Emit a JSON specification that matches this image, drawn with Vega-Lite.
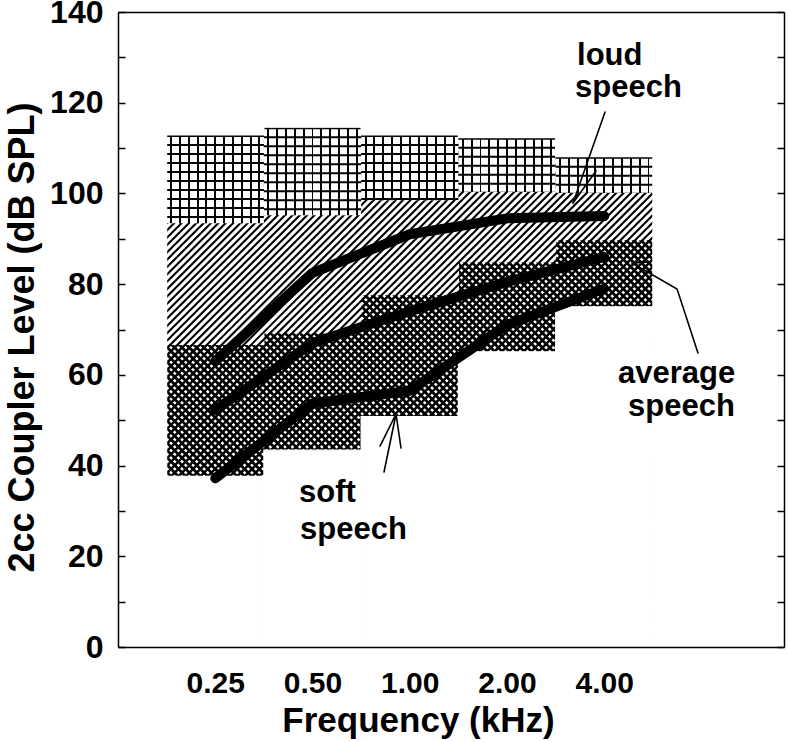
{
  "$schema": "https://vega.github.io/schema/vega-lite/v6.json",
  "width": 666,
  "height": 635,
  "autosize": {"type": "none"},
  "padding": {"left": 118, "top": 12, "right": 4, "bottom": 95},
  "background": "white",
  "config": {"view": {"stroke": null}},
  "datasets": {
    "bands": [
      {"freq": 0.25, "band_lo": 0.17678, "band_hi": 0.35355, "loud_top": 112.9, "loud_bottom": 93.4, "soft_top": 66.7, "soft_bottom": 37.6},
      {"freq": 0.5, "band_lo": 0.35355, "band_hi": 0.70711, "loud_top": 114.6, "loud_bottom": 95.2, "soft_top": 69.3, "soft_bottom": 43.4},
      {"freq": 1, "band_lo": 0.70711, "band_hi": 1.41421, "loud_top": 112.9, "loud_bottom": 98.5, "soft_top": 77.7, "soft_bottom": 50.8},
      {"freq": 2, "band_lo": 1.41421, "band_hi": 2.82843, "loud_top": 112.3, "loud_bottom": 100.3, "soft_top": 84.9, "soft_bottom": 65.1},
      {"freq": 4, "band_lo": 2.82843, "band_hi": 5.65685, "loud_top": 108.1, "loud_bottom": 100.1, "soft_top": 89.8, "soft_bottom": 75.0}
    ],
    "speech": [
      {"series": "loud", "freq": 0.25, "level": 63},
      {"series": "loud", "freq": 0.5, "level": 82.5},
      {"series": "loud", "freq": 1, "level": 91},
      {"series": "loud", "freq": 2, "level": 94.5},
      {"series": "loud", "freq": 4, "level": 95},
      {"series": "average", "freq": 0.25, "level": 52.3},
      {"series": "average", "freq": 0.5, "level": 67},
      {"series": "average", "freq": 1, "level": 74},
      {"series": "average", "freq": 2, "level": 80.5},
      {"series": "average", "freq": 4, "level": 86},
      {"series": "soft", "freq": 0.25, "level": 37.2},
      {"series": "soft", "freq": 0.5, "level": 53.7},
      {"series": "soft", "freq": 1, "level": 56.5},
      {"series": "soft", "freq": 2, "level": 71},
      {"series": "soft", "freq": 4, "level": 79}
    ],
    "pointers": [
      {"id": "loud-shaft", "seq": 1, "freq": 4.022, "level": 117.95},
      {"id": "loud-shaft", "seq": 2, "freq": 3.201, "level": 97.89},
      {"id": "loud-barb", "seq": 1, "freq": 3.201, "level": 97.89},
      {"id": "loud-barb", "seq": 2, "freq": 3.771, "level": 104.94},
      {"id": "average-shaft", "seq": 1, "freq": 7.8, "level": 64.82},
      {"id": "average-shaft", "seq": 2, "freq": 6.72, "level": 78.93},
      {"id": "average-shaft", "seq": 3, "freq": 4.875, "level": 84.66},
      {"id": "average-barb", "seq": 1, "freq": 4.875, "level": 84.66},
      {"id": "average-barb", "seq": 2, "freq": 5.55, "level": 84.9},
      {"id": "soft-shaft", "seq": 1, "freq": 0.8324, "level": 38.58},
      {"id": "soft-shaft", "seq": 2, "freq": 0.9067, "level": 51.37},
      {"id": "soft-barb1", "seq": 1, "freq": 0.809, "level": 44.31},
      {"id": "soft-barb1", "seq": 2, "freq": 0.9067, "level": 51.37},
      {"id": "soft-barb2", "seq": 1, "freq": 0.9395, "level": 43.87},
      {"id": "soft-barb2", "seq": 2, "freq": 0.9067, "level": 51.37}
    ],
    "labels": [
      {"text": "loud", "freq": 3.294, "level": 128.3},
      {"text": "speech", "freq": 3.247, "level": 121.3},
      {"text": "average", "freq": 4.41, "level": 58.2},
      {"text": "speech", "freq": 4.74, "level": 50.93},
      {"text": "soft", "freq": 0.4541, "level": 31.97},
      {"text": "speech", "freq": 0.4574, "level": 23.81}
    ]
  },
  "resolve": {"axis": {"x": "independent", "y": "independent"}},
  "layer": [
    {
      "data": {"values": [{"item": "hatch"}]},
      "mark": {"type": "rule", "clip": true, "strokeWidth": 960, "strokeDash": [2.1, 3.1], "strokeCap": "butt", "color": "black"},
      "encoding": {
        "x": {"datum": 0.11943, "type": "quantitative", "scale": {"type": "log", "domain": [0.125, 14.4], "nice": false}, "axis": null},
        "x2": {"datum": 15.07, "type": "quantitative"},
        "y": {"datum": 144.83, "type": "quantitative", "scale": {"domain": [0, 140], "nice": false, "zero": false}, "axis": null},
        "y2": {"datum": -4.83, "type": "quantitative"}
      }
    },
    {
      "data": {"values": [{"item": "hatch"}]},
      "mark": {"type": "rule", "clip": true, "strokeWidth": 960, "strokeDash": [2.8, 2.4], "strokeCap": "butt", "color": "black"},
      "encoding": {
        "x": {"datum": 0.11943, "type": "quantitative", "axis": null},
        "x2": {"datum": 15.07, "type": "quantitative"},
        "y": {"datum": -4.83, "type": "quantitative", "axis": null},
        "y2": {"datum": 144.83, "type": "quantitative"}
      }
    },
    {
      "data": {"name": "bands"},
      "mark": {"type": "rect", "fill": "white", "stroke": "white", "strokeWidth": 1.2},
      "encoding": {
        "x": {"field": "band_lo", "type": "quantitative", "axis": null},
        "x2": {"field": "band_hi"},
        "y": {"field": "soft_top", "type": "quantitative", "axis": null},
        "y2": {"datum": 140, "type": "quantitative"}
      }
    },
    {
      "data": {"values": [{"item": "hatch"}]},
      "mark": {"type": "rule", "clip": true, "strokeWidth": 960, "strokeDash": [2.1, 3.1], "strokeCap": "butt", "color": "black"},
      "encoding": {
        "x": {"datum": 0.11943, "type": "quantitative", "axis": null},
        "x2": {"datum": 15.07, "type": "quantitative"},
        "y": {"datum": 144.83, "type": "quantitative", "axis": null},
        "y2": {"datum": -4.83, "type": "quantitative"}
      }
    },
    {
      "data": {"name": "bands"},
      "mark": {
        "type": "rect",
        "stroke": null,
        "fill": {
          "gradient": "linear", "x1": 0, "y1": 0, "x2": 1, "y2": 0,
          "stops": [
            {"offset": 0.0355, "color": "#ffffff"}, {"offset": 0.0355, "color": "#000000"}, {"offset": 0.0555, "color": "#000000"}, {"offset": 0.0555, "color": "#ffffff"},
            {"offset": 0.1264, "color": "#ffffff"}, {"offset": 0.1264, "color": "#000000"}, {"offset": 0.1464, "color": "#000000"}, {"offset": 0.1464, "color": "#ffffff"},
            {"offset": 0.2173, "color": "#ffffff"}, {"offset": 0.2173, "color": "#000000"}, {"offset": 0.2373, "color": "#000000"}, {"offset": 0.2373, "color": "#ffffff"},
            {"offset": 0.3082, "color": "#ffffff"}, {"offset": 0.3082, "color": "#000000"}, {"offset": 0.3282, "color": "#000000"}, {"offset": 0.3282, "color": "#ffffff"},
            {"offset": 0.3991, "color": "#ffffff"}, {"offset": 0.3991, "color": "#000000"}, {"offset": 0.4191, "color": "#000000"}, {"offset": 0.4191, "color": "#ffffff"},
            {"offset": 0.49, "color": "#ffffff"}, {"offset": 0.49, "color": "#000000"}, {"offset": 0.51, "color": "#000000"}, {"offset": 0.51, "color": "#ffffff"},
            {"offset": 0.5809, "color": "#ffffff"}, {"offset": 0.5809, "color": "#000000"}, {"offset": 0.6009, "color": "#000000"}, {"offset": 0.6009, "color": "#ffffff"},
            {"offset": 0.6718, "color": "#ffffff"}, {"offset": 0.6718, "color": "#000000"}, {"offset": 0.6918, "color": "#000000"}, {"offset": 0.6918, "color": "#ffffff"},
            {"offset": 0.7627, "color": "#ffffff"}, {"offset": 0.7627, "color": "#000000"}, {"offset": 0.7827, "color": "#000000"}, {"offset": 0.7827, "color": "#ffffff"},
            {"offset": 0.8536, "color": "#ffffff"}, {"offset": 0.8536, "color": "#000000"}, {"offset": 0.8736, "color": "#000000"}, {"offset": 0.8736, "color": "#ffffff"},
            {"offset": 0.9445, "color": "#ffffff"}, {"offset": 0.9445, "color": "#000000"}, {"offset": 0.9645, "color": "#000000"}, {"offset": 0.9645, "color": "#ffffff"}
          ]
        }
      },
      "encoding": {
        "x": {"field": "band_lo", "type": "quantitative", "axis": null},
        "x2": {"field": "band_hi"},
        "y": {"field": "loud_bottom", "type": "quantitative", "axis": null},
        "y2": {"field": "loud_top"}
      }
    },
    {
      "data": {"name": "bands"},
      "mark": {"type": "rule", "strokeWidth": 97.25, "strokeDash": [2, 7], "strokeCap": "butt", "color": "black"},
      "encoding": {
        "x": {"field": "freq", "type": "quantitative", "axis": null},
        "y": {"field": "loud_top", "type": "quantitative", "axis": null},
        "y2": {"field": "loud_bottom"}
      }
    },
    {
      "data": {"name": "bands"},
      "mark": {"type": "rect", "fill": "white", "stroke": "white", "strokeWidth": 1.2},
      "encoding": {
        "x": {"field": "band_lo", "type": "quantitative", "axis": null},
        "x2": {"field": "band_hi"},
        "y": {"field": "loud_top", "type": "quantitative", "axis": null},
        "y2": {"datum": 140, "type": "quantitative"}
      }
    },
    {
      "data": {"name": "bands"},
      "mark": {"type": "rect", "fill": "white", "stroke": "white", "strokeWidth": 1.2},
      "encoding": {
        "x": {"field": "band_lo", "type": "quantitative", "axis": null},
        "x2": {"field": "band_hi"},
        "y": {"field": "soft_bottom", "type": "quantitative", "axis": null},
        "y2": {"datum": 0, "type": "quantitative"}
      }
    },
    {
      "data": {"values": [{"side": "left", "lo": 0.125, "hi": 0.17678}, {"side": "right", "lo": 5.65685, "hi": 14.4}]},
      "mark": {"type": "rect", "fill": "white", "stroke": "white", "strokeWidth": 1.2},
      "encoding": {
        "x": {"field": "lo", "type": "quantitative", "axis": null},
        "x2": {"field": "hi"},
        "y": {"datum": 0, "type": "quantitative", "axis": null},
        "y2": {"datum": 140, "type": "quantitative"}
      }
    },
    {
      "data": {"name": "speech"},
      "mark": {"type": "line", "color": "black", "strokeWidth": 10, "strokeCap": "round", "strokeJoin": "round"},
      "encoding": {
        "x": {
          "field": "freq", "type": "quantitative",
          "axis": {
            "orient": "bottom", "values": [0.25, 0.5, 1, 2, 4], "format": ".2f", "ticks": false, "grid": false,
            "labelFont": "Liberation Sans", "labelFontSize": 30, "labelFontWeight": "bold", "labelColor": "black",
            "labelBaseline": "alphabetic", "labelPadding": 45, "labelFlush": false, "labelOverlap": false,
            "domainColor": "black", "domainWidth": 1.5,
            "title": "Frequency (kHz)", "titleFont": "Liberation Sans", "titleFontSize": 35, "titleFontWeight": "bold", "titleColor": "black",
            "titleAlign": "center", "titleBaseline": "alphabetic", "titleX": 300, "titleY": 84, "zindex": 1
          }
        },
        "y": {
          "field": "level", "type": "quantitative",
          "axis": {
            "orient": "left", "values": [0, 10, 20, 30, 40, 50, 60, 70, 80, 90, 100, 110, 120, 130, 140],
            "labelExpr": "datum.value % 20 === 0 ? datum.label : ''", "grid": false,
            "tickSize": -7, "tickColor": "black", "tickWidth": 1.5,
            "labelFont": "Liberation Sans", "labelFontSize": 32, "labelFontWeight": "bold", "labelColor": "black",
            "labelPadding": 22, "labelFlush": false, "labelOverlap": false,
            "domainColor": "black", "domainWidth": 1.5,
            "title": "2cc Coupler Level (dB SPL)", "titleFont": "Liberation Sans", "titleFontSize": 36, "titleFontWeight": "bold", "titleColor": "black",
            "titleAngle": 270, "titleAlign": "center", "titleBaseline": "alphabetic", "titleX": -85, "titleY": 325, "zindex": 1
          }
        },
        "detail": {"field": "series", "type": "nominal"}
      }
    },
    {
      "data": {"name": "pointers"},
      "mark": {"type": "line", "color": "black", "strokeWidth": 1.6, "strokeCap": "round", "strokeJoin": "miter"},
      "encoding": {
        "x": {
          "field": "freq", "type": "quantitative",
          "axis": {"orient": "top", "labels": false, "ticks": false, "grid": false, "title": null, "domainColor": "black", "domainWidth": 1.5, "zindex": 1}
        },
        "y": {
          "field": "level", "type": "quantitative",
          "axis": {
            "orient": "right", "values": [0, 10, 20, 30, 40, 50, 60, 70, 80, 90, 100, 110, 120, 130, 140],
            "labels": false, "grid": false, "title": null, "tickSize": -7, "tickColor": "black", "tickWidth": 1.5,
            "domainColor": "black", "domainWidth": 1.5, "zindex": 1
          }
        },
        "detail": {"field": "id", "type": "nominal"},
        "order": {"field": "seq", "type": "quantitative"}
      }
    },
    {
      "data": {"name": "labels"},
      "mark": {"type": "text", "align": "left", "baseline": "alphabetic", "font": "Liberation Sans", "fontSize": 31, "fontWeight": "bold", "color": "black"},
      "encoding": {
        "x": {"field": "freq", "type": "quantitative", "axis": null},
        "y": {"field": "level", "type": "quantitative", "axis": null},
        "text": {"field": "text", "type": "nominal"}
      }
    }
  ]
}
